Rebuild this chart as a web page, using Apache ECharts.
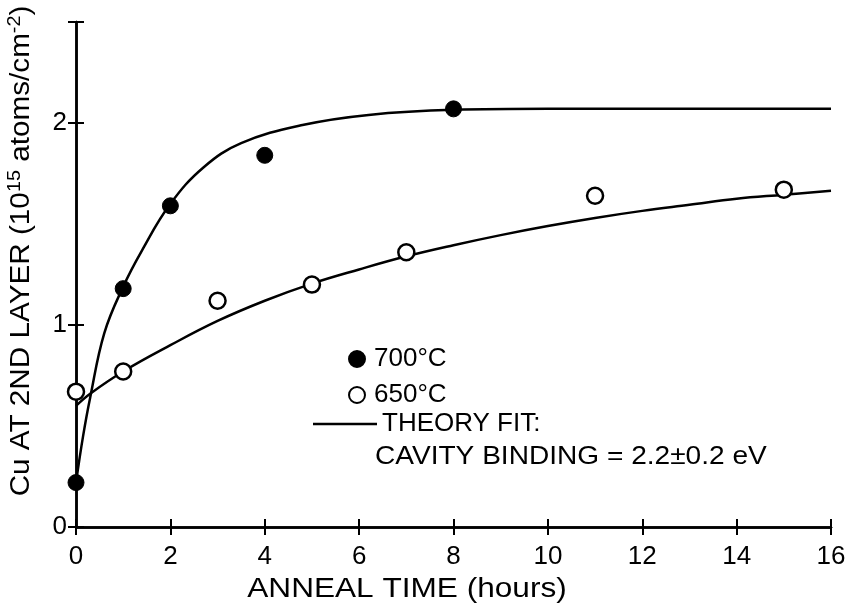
<!DOCTYPE html>
<html>
<head>
<meta charset="utf-8">
<script src="https://cdn.jsdelivr.net/npm/echarts@6/dist/echarts.min.js"></script>
<style>
  html, body { margin: 0; padding: 0; background: #fff; }
  #chart { width: 849px; height: 611px; }
</style>
</head>
<body>
<div id="chart"></div>
<script>
// measured points
const hours700 = [0, 1, 2, 4, 8]
const cu700 = [0.22, 1.18, 1.59, 1.84, 2.07]
const hours650 = [0, 1, 3, 5, 7, 11, 15]
const cu650 = [0.67, 0.77, 1.12, 1.2, 1.36, 1.64, 1.67]

// theory fit curves
const fitHours700 = [0, 0.15, 0.3, 0.6, 1, 1.4, 2, 2.7, 3.5, 4.8, 6.2, 8, 10, 16]
const fit700 = [0.22, 0.45, 0.64, 0.96, 1.19, 1.37, 1.6, 1.78, 1.9, 1.99, 2.04, 2.065, 2.07, 2.07]
const fitHours650 = [0, 0.3, 1, 2, 3, 4, 5, 6, 7, 8, 9, 10, 11, 12, 13, 14, 15, 16]
const fit650 = [0.6, 0.66, 0.77, 0.9, 1.02, 1.12, 1.205, 1.275, 1.34, 1.395, 1.445, 1.49,
  1.53, 1.565, 1.595, 1.625, 1.645, 1.665]

const xTicks = [0, 2, 4, 6, 8, 10, 12, 14, 16]
const yTicks = [0, 1, 2]

const FONT = '"Liberation Sans", Arial, Helvetica, sans-serif'
const pairs = (xs, ys) => xs.map((x, i) => [x, ys[i]])

const chart = echarts.init(document.getElementById('chart'))

const axisLine = { lineStyle: { color: '#000', width: 2.5 } }
const tick = { inside: true, length: 8, lineStyle: { color: '#000', width: 2 } }

chart.setOption({
  animation: false,
  grid: { left: 76, right: 18, top: 22, bottom: 84 },
  xAxis: [
    {
      type: 'value', min: 0, max: 16, interval: 2,
      axisLine: axisLine, axisTick: tick, splitLine: { show: false },
      axisLabel: {
        color: '#000', fontSize: 26, fontFamily: FONT, margin: 17,
        formatter: v => (xTicks.indexOf(v) >= 0 ? String(v) : '')
      }
    },
    {
      type: 'value', position: 'top', min: 0, max: 16, interval: 2,
      axisLine: axisLine, axisTick: tick, axisLabel: { show: false }, splitLine: { show: false }
    }
  ],
  yAxis: [
    {
      type: 'value', min: 0, max: 2.5, interval: 1,
      axisLine: axisLine, axisTick: tick, splitLine: { show: false },
      axisLabel: {
        color: '#000', fontSize: 26, fontFamily: FONT, margin: 9,
        formatter: v => (yTicks.indexOf(v) >= 0 ? String(v) : '')
      }
    },
    {
      type: 'value', position: 'right', min: 0, max: 2.5, interval: 1,
      axisLine: axisLine, axisTick: tick, axisLabel: { show: false }, splitLine: { show: false }
    }
  ],
  legend: [
    {
      data: ['700°C', '650°C'],
      orient: 'vertical',
      left: 343, top: 340,
      itemWidth: 24, itemHeight: 16, itemGap: 8,
      textStyle: { color: '#000', fontSize: 26, fontFamily: FONT, lineHeight: 28 }
    },
    {
      data: [{ name: 'THEORY FIT:', icon: 'rect' }],
      left: 308, top: 405,
      itemWidth: 64, itemHeight: 2.5,
      textStyle: { color: '#000', fontSize: 26, fontFamily: FONT, lineHeight: 28 }
    }
  ],
  graphic: [
    {
      type: 'text', x: 375, y: 457, scaleX: 1.08,
      style: {
        text: 'CAVITY BINDING = 2.2±0.2 eV', fill: '#000', font: '26px ' + FONT,
        verticalAlign: 'middle'
      }
    },
    {
      type: 'text', x: 407, y: 590, scaleX: 1.17,
      style: {
        text: 'ANNEAL TIME (hours)', fill: '#000', font: '27px ' + FONT,
        align: 'center', verticalAlign: 'middle'
      }
    },
    {
      type: 'text', x: 22, y: 251, rotation: Math.PI / 2, scaleX: 1.1,
      style: {
        text: 'Cu AT 2ND LAYER (10{sup|15} atoms/cm{sup|-2})',
        fill: '#000', font: '27px ' + FONT, lineHeight: 32,
        align: 'center', verticalAlign: 'middle',
        rich: {
          sup: { fontSize: 18, fontFamily: FONT, fill: '#000', verticalAlign: 'top', lineHeight: 32 }
        }
      }
    }
  ],
  series: [
    {
      name: 'THEORY FIT:', type: 'line', data: pairs(fitHours700, fit700),
      smooth: 0.4, showSymbol: false, symbol: 'none',
      lineStyle: { color: '#000', width: 2.5 }, itemStyle: { color: '#000' }, z: 1
    },
    {
      name: 'THEORY FIT:', type: 'line', data: pairs(fitHours650, fit650),
      smooth: 0.4, showSymbol: false, symbol: 'none',
      lineStyle: { color: '#000', width: 2.5 }, itemStyle: { color: '#000' }, z: 1
    },
    {
      name: '700°C', type: 'scatter', data: pairs(hours700, cu700),
      symbol: 'circle', symbolSize: 16,
      itemStyle: { color: '#000', borderColor: '#000', borderWidth: 1, opacity: 1 }, z: 3
    },
    {
      name: '650°C', type: 'scatter', data: pairs(hours650, cu650),
      symbol: 'circle', symbolSize: 16,
      itemStyle: { color: '#fff', borderColor: '#000', borderWidth: 2.5, opacity: 1 }, z: 3
    }
  ]
})
</script>
</body>
</html>
